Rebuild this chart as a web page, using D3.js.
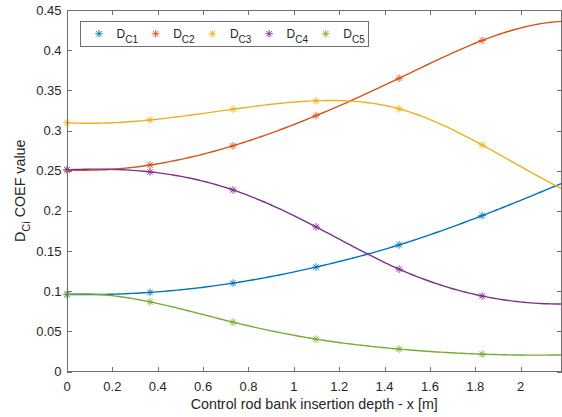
<!DOCTYPE html>
<html>
<head>
<meta charset="utf-8">
<script src="https://cdn.jsdelivr.net/npm/d3@7"></script>
<style>
  html, body { margin: 0; padding: 0; background: #fff; }
  svg { display: block; font-family: "Liberation Sans", Arial, Helvetica, sans-serif; }
</style>
</head>
<body>
<svg id="chart" width="562" height="417"></svg>
<script>
// Insertion depth samples (m)
const depth = [0, 0.366, 0.732, 1.098, 1.464, 1.83, 2.196];

// Coefficient values per group
const dC1 = [0.096, 0.0985, 0.110, 0.130, 0.1576, 0.194, 0.236];
const dC2 = [0.251, 0.257, 0.281, 0.3185, 0.365, 0.412, 0.436];
const dC3 = [0.3097, 0.3131, 0.3265, 0.337, 0.327, 0.282, 0.2255];
const dC4 = [0.251, 0.2485, 0.226, 0.180, 0.1274, 0.094, 0.0840];
const dC5 = [0.096, 0.0867, 0.0614, 0.0403, 0.0279, 0.0216, 0.0207];

const seriesNames = ["C1", "C2", "C3", "C4", "C5"];
const seriesColors = ["#0072BD", "#D95319", "#EDB120", "#7E2F8E", "#77AC30"];

const xTicks = [0, 0.2, 0.4, 0.6, 0.8, 1, 1.2, 1.4, 1.6, 1.8, 2];
const xTickLabels = ["0", "0.2", "0.4", "0.6", "0.8", "1", "1.2", "1.4", "1.6", "1.8", "2"];
const yTicks = [0, 0.05, 0.1, 0.15, 0.2, 0.25, 0.3, 0.35, 0.4, 0.45];
const yTickLabels = ["0", "0.05", "0.1", "0.15", "0.2", "0.25", "0.3", "0.35", "0.4", "0.45"];

const xDomain = [0, 2.18];
const yDomain = [0, 0.45];

const series = [dC1, dC2, dC3, dC4, dC5].map((vals, i) => ({
  name: seriesNames[i],
  color: seriesColors[i],
  points: vals.map((v, j) => ({ x: depth[j], y: v }))
}));

// Cubic spline with not-a-knot end conditions, as a d3 curve factory
function SplineCurve(context) { this._context = context; }
SplineCurve.prototype = {
  areaStart() { this._line = 0; },
  areaEnd() { this._line = NaN; },
  lineStart() { this._xs = []; this._ys = []; },
  point(x, y) { this._xs.push(+x); this._ys.push(+y); },
  lineEnd() {
    const X = this._xs, Y = this._ys, n = X.length, ctx = this._context;
    if (n === 0) return;
    ctx.moveTo(X[0], Y[0]);
    if (n < 4) { for (let i = 1; i < n; i++) ctx.lineTo(X[i], Y[i]); return; }
    const h = [];
    for (let i = 0; i < n - 1; i++) h.push(X[i + 1] - X[i]);
    // Build system A * M = b for second derivatives M
    const A = Array.from({ length: n }, () => new Array(n).fill(0));
    const b = new Array(n).fill(0);
    A[0][0] = h[1]; A[0][1] = -(h[0] + h[1]); A[0][2] = h[0];
    for (let i = 1; i < n - 1; i++) {
      A[i][i - 1] = h[i - 1];
      A[i][i] = 2 * (h[i - 1] + h[i]);
      A[i][i + 1] = h[i];
      b[i] = 6 * ((Y[i + 1] - Y[i]) / h[i] - (Y[i] - Y[i - 1]) / h[i - 1]);
    }
    A[n - 1][n - 3] = h[n - 2]; A[n - 1][n - 2] = -(h[n - 3] + h[n - 2]); A[n - 1][n - 1] = h[n - 3];
    // Gaussian elimination with partial pivoting
    for (let c = 0; c < n; c++) {
      let p = c;
      for (let r = c + 1; r < n; r++) if (Math.abs(A[r][c]) > Math.abs(A[p][c])) p = r;
      [A[c], A[p]] = [A[p], A[c]]; [b[c], b[p]] = [b[p], b[c]];
      for (let r = c + 1; r < n; r++) {
        const f = A[r][c] / A[c][c];
        if (!f) continue;
        for (let k = c; k < n; k++) A[r][k] -= f * A[c][k];
        b[r] -= f * b[c];
      }
    }
    const M = new Array(n).fill(0);
    for (let r = n - 1; r >= 0; r--) {
      let s = b[r];
      for (let k = r + 1; k < n; k++) s -= A[r][k] * M[k];
      M[r] = s / A[r][r];
    }
    const steps = 24;
    for (let i = 0; i < n - 1; i++) {
      const hi = h[i];
      for (let s = 1; s <= steps; s++) {
        const x = X[i] + hi * s / steps;
        const a = X[i + 1] - x, d = x - X[i];
        const y = M[i] * a * a * a / (6 * hi) + M[i + 1] * d * d * d / (6 * hi)
          + (Y[i] / hi - M[i] * hi / 6) * a + (Y[i + 1] / hi - M[i + 1] * hi / 6) * d;
        ctx.lineTo(x, y);
      }
    }
  }
};
const curveSpline = ctx => new SplineCurve(ctx);

const svg = d3.select("#chart");
const plot = { left: 67, right: 561.5, top: 10, bottom: 371.5 };
const textColor = "#262626";
const axisColor = "#6f6f6f";

const x = d3.scaleLinear().domain(xDomain).range([plot.left, plot.right]);
const y = d3.scaleLinear().domain(yDomain).range([plot.bottom, plot.top]);

svg.append("defs").append("clipPath").attr("id", "plotClip")
  .append("rect")
  .attr("x", plot.left).attr("y", plot.top)
  .attr("width", plot.right - plot.left).attr("height", plot.bottom - plot.top);

// Curves
const line = d3.line().x(d => x(d.x)).y(d => y(d.y)).curve(curveSpline);
const curves = svg.append("g").attr("clip-path", "url(#plotClip)");
series.forEach(s => {
  curves.append("path")
    .attr("d", line(s.points))
    .attr("fill", "none")
    .attr("stroke", s.color)
    .attr("stroke-width", 1.4);
});

// Asterisk marker
function asterisk(g, cx, cy, color, r) {
  const d = r * 0.72;
  const segs = [[-r, 0, r, 0], [0, -r, 0, r], [-d, -d, d, d], [-d, d, d, -d]];
  segs.forEach(([x1, y1, x2, y2]) => {
    g.append("line")
      .attr("x1", cx + x1).attr("y1", cy + y1)
      .attr("x2", cx + x2).attr("y2", cy + y2)
      .attr("stroke", color).attr("stroke-width", 0.9);
  });
}

const markers = svg.append("g");
series.forEach(s => {
  s.points.forEach(p => {
    if (p.x <= xDomain[1]) asterisk(markers, x(p.x), y(p.y), s.color, 3.8);
  });
});

// Axes box with inward ticks on all four sides
const axes = svg.append("g").attr("shape-rendering", "crispEdges");
const tickLen = 5;
axes.append("rect")
  .attr("x", plot.left).attr("y", plot.top)
  .attr("width", plot.right - plot.left).attr("height", plot.bottom - plot.top)
  .attr("fill", "none").attr("stroke", axisColor).attr("stroke-width", 1);

xTicks.forEach((t, i) => {
  const px = Math.round(x(t)) + 0.5;
  axes.append("line").attr("x1", px).attr("x2", px)
    .attr("y1", plot.bottom).attr("y2", plot.bottom - tickLen)
    .attr("stroke", axisColor);
  axes.append("line").attr("x1", px).attr("x2", px)
    .attr("y1", plot.top).attr("y2", plot.top + tickLen)
    .attr("stroke", axisColor);
  svg.append("text")
    .attr("x", x(t)).attr("y", plot.bottom + 19.5)
    .attr("text-anchor", "middle")
    .attr("font-size", 13).attr("fill", textColor)
    .text(xTickLabels[i]);
});

yTicks.forEach((t, i) => {
  const py = Math.round(y(t)) + 0.5;
  axes.append("line").attr("x1", plot.left).attr("x2", plot.left + tickLen)
    .attr("y1", py).attr("y2", py).attr("stroke", axisColor);
  axes.append("line").attr("x1", plot.right).attr("x2", plot.right - tickLen)
    .attr("y1", py).attr("y2", py).attr("stroke", axisColor);
  svg.append("text")
    .attr("x", plot.left - 5.5).attr("y", y(t) + 4.6)
    .attr("text-anchor", "end")
    .attr("font-size", 13).attr("fill", textColor)
    .text(yTickLabels[i]);
});

// Axis titles
svg.append("text")
  .attr("x", (plot.left + plot.right) / 2).attr("y", 408.5)
  .attr("text-anchor", "middle")
  .attr("font-size", 14.3).attr("fill", textColor)
  .text("Control rod bank insertion depth - x [m]");

const yTitle = svg.append("text")
  .attr("transform", `translate(25,${(plot.top + plot.bottom) / 2}) rotate(-90)`)
  .attr("text-anchor", "middle")
  .attr("font-size", 14.3).attr("fill", textColor);
yTitle.append("tspan").text("D");
yTitle.append("tspan").attr("font-size", 11).attr("dy", 4.5).text("Ci");
yTitle.append("tspan").attr("dy", -4.5).text(" COEF value");

// Legend
const legend = svg.append("g");
const lg = { x: 80.5, y: 21.5, w: 288, h: 24.5 };
legend.append("rect")
  .attr("x", lg.x).attr("y", lg.y).attr("width", lg.w).attr("height", lg.h)
  .attr("fill", "#fff").attr("stroke", axisColor).attr("stroke-width", 1)
  .attr("shape-rendering", "crispEdges");
series.forEach((s, i) => {
  const mx = 99 + i * 56.7;
  const cy = lg.y + lg.h / 2;
  asterisk(legend, mx, cy, s.color, 3.8);
  const t = legend.append("text")
    .attr("x", mx + 17.5).attr("y", cy + 4.5)
    .attr("font-size", 12).attr("fill", textColor);
  t.append("tspan").text("D");
  t.append("tspan").attr("font-size", 10).attr("dy", 4.5).text(s.name);
});
</script>
</body>
</html>
